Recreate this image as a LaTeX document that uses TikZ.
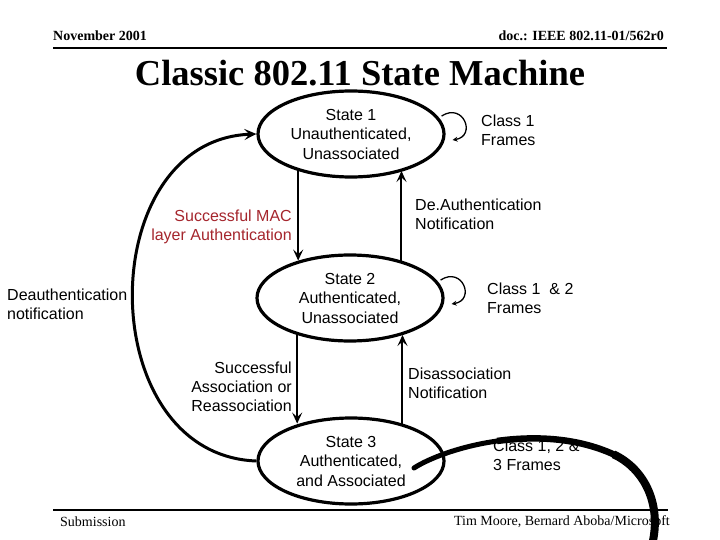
\documentclass[tikz,border=0pt]{standalone}
\usepackage{fontspec}
\setmainfont{Liberation Serif}
\newfontfamily\arialf{Liberation Sans}
\usetikzlibrary{shapes.geometric,arrows.meta,calc}
\definecolor{labred}{RGB}{165,38,45}
\begin{document}
\begin{tikzpicture}[x=1pt,y=-1pt,
  state/.style={ellipse,draw,line width=3.2pt,minimum width=186pt,minimum height=86pt,inner sep=0pt,
    align=center,font=\arialf\fontsize{16}{19.5}\selectfont},
  lbl/.style={inner sep=0pt,font=\arialf\fontsize{16}{19}\selectfont},
  trans/.style={line width=2pt,-{Stealth[length=11pt,width=10pt,inset=4.5pt]}},
  selfloop/.style={line width=1.3pt,-{Stealth[length=5pt,width=5pt]}},
  bigarr/.style={line width=3pt,-{Stealth[length=12pt,width=11pt,inset=5pt]}},
  hdr/.style={inner sep=0pt,font=\bfseries\fontsize{14}{16}\selectfont},
  ftr/.style={inner sep=0pt,font=\fontsize{14}{16}\selectfont}]
\fill[white] (0,0) rectangle (720,540);
\useasboundingbox (0,0) rectangle (720,540);

% header
\node[hdr,anchor=west] (hl) at (53,36) {November 2001};
\node[hdr,anchor=east] (hr) at (664,36) {doc.: IEEE 802.11-01/562r0};
\draw[line width=2.5pt] (53,48) -- (667,48);
\node[inner sep=0pt,font=\bfseries\fontsize{36.5}{42}\selectfont] (title) at (360,73) {Classic 802.11 State Machine};

% states
\node[state] (s1) at (351,134) {State 1\\Unauthenticated,\\Unassociated};
\node[state] (s2) at (350,298) {State 2\\Authenticated,\\Unassociated};
\node[state] (s3) at (351,461) {State 3\\Authenticated,\\and Associated};

% transitions
\draw[trans] (s1.215) -- (s1.215 |- s2.144);
\draw[trans] (s2.36) -- (s2.36 |- s1.325);
\draw[trans] (s2.215) -- (s2.215 |- s3.144);
\draw[trans] (s3.36) -- (s3.36 |- s2.325);
\draw[bigarr] (s3.west) .. controls (92,455) and (92,140) .. (s1.west);

% self loops
\draw[selfloop] ($(s1.east)+(-4,-18)$) .. controls +(22,-14) and +(24,-4) .. ($(s1.east)+(7,6)$);
\draw[selfloop] ($(s2.east)+(-4,-18)$) .. controls +(22,-14) and +(24,-4) .. ($(s2.east)+(7,6)$);

% labels
\node[lbl,anchor=west,align=left] (c1) at (481,130.5) {Class 1\\Frames};
\node[lbl,anchor=west,align=left] (c2) at (487,298.5) {Class 1 \ \& 2\\Frames};
\node[lbl,anchor=west,align=left] (c3) at (493,455) {Class 1, 2 \&\\3 Frames};
\node[lbl,anchor=west,align=left] (da) at (415,214.5) {De.Authentication\\Notification};
\node[lbl,anchor=east,align=right,text=labred] (sm) at (292,226.5) {Successful MAC\\layer Authentication};
\node[lbl,anchor=west,align=left] (dn) at (7,304.5) {Deauthentication\\notification};
\node[lbl,anchor=east,align=right] (sa) at (292,386.5) {Successful\\Association or\\Reassociation};
\node[lbl,anchor=west,align=left] (dis) at (408,383) {Disassociation\\Notification};

% footer
\draw[line width=2pt] (53,510) -- (668,510);
\node[ftr,anchor=west] (sub) at (60,522) {Submission};
\node[ftr,anchor=east] (auth) at (670,522) {Tim Moore, Bernard Aboba/Microsoft};

% stray thick stroke (tapering)
\draw[line width=5pt,line cap=round] (414,468) .. controls (429.5,458) and (461,446) .. (498,440.9);
\draw[line width=6.5pt] (497,441) .. controls (535,435.75) and (577.5,437.5) .. (615,455);
\draw[line width=8pt] (613.5,454.3) .. controls (645,469) and (662,505) .. (652,545);
\end{tikzpicture}
\end{document}
